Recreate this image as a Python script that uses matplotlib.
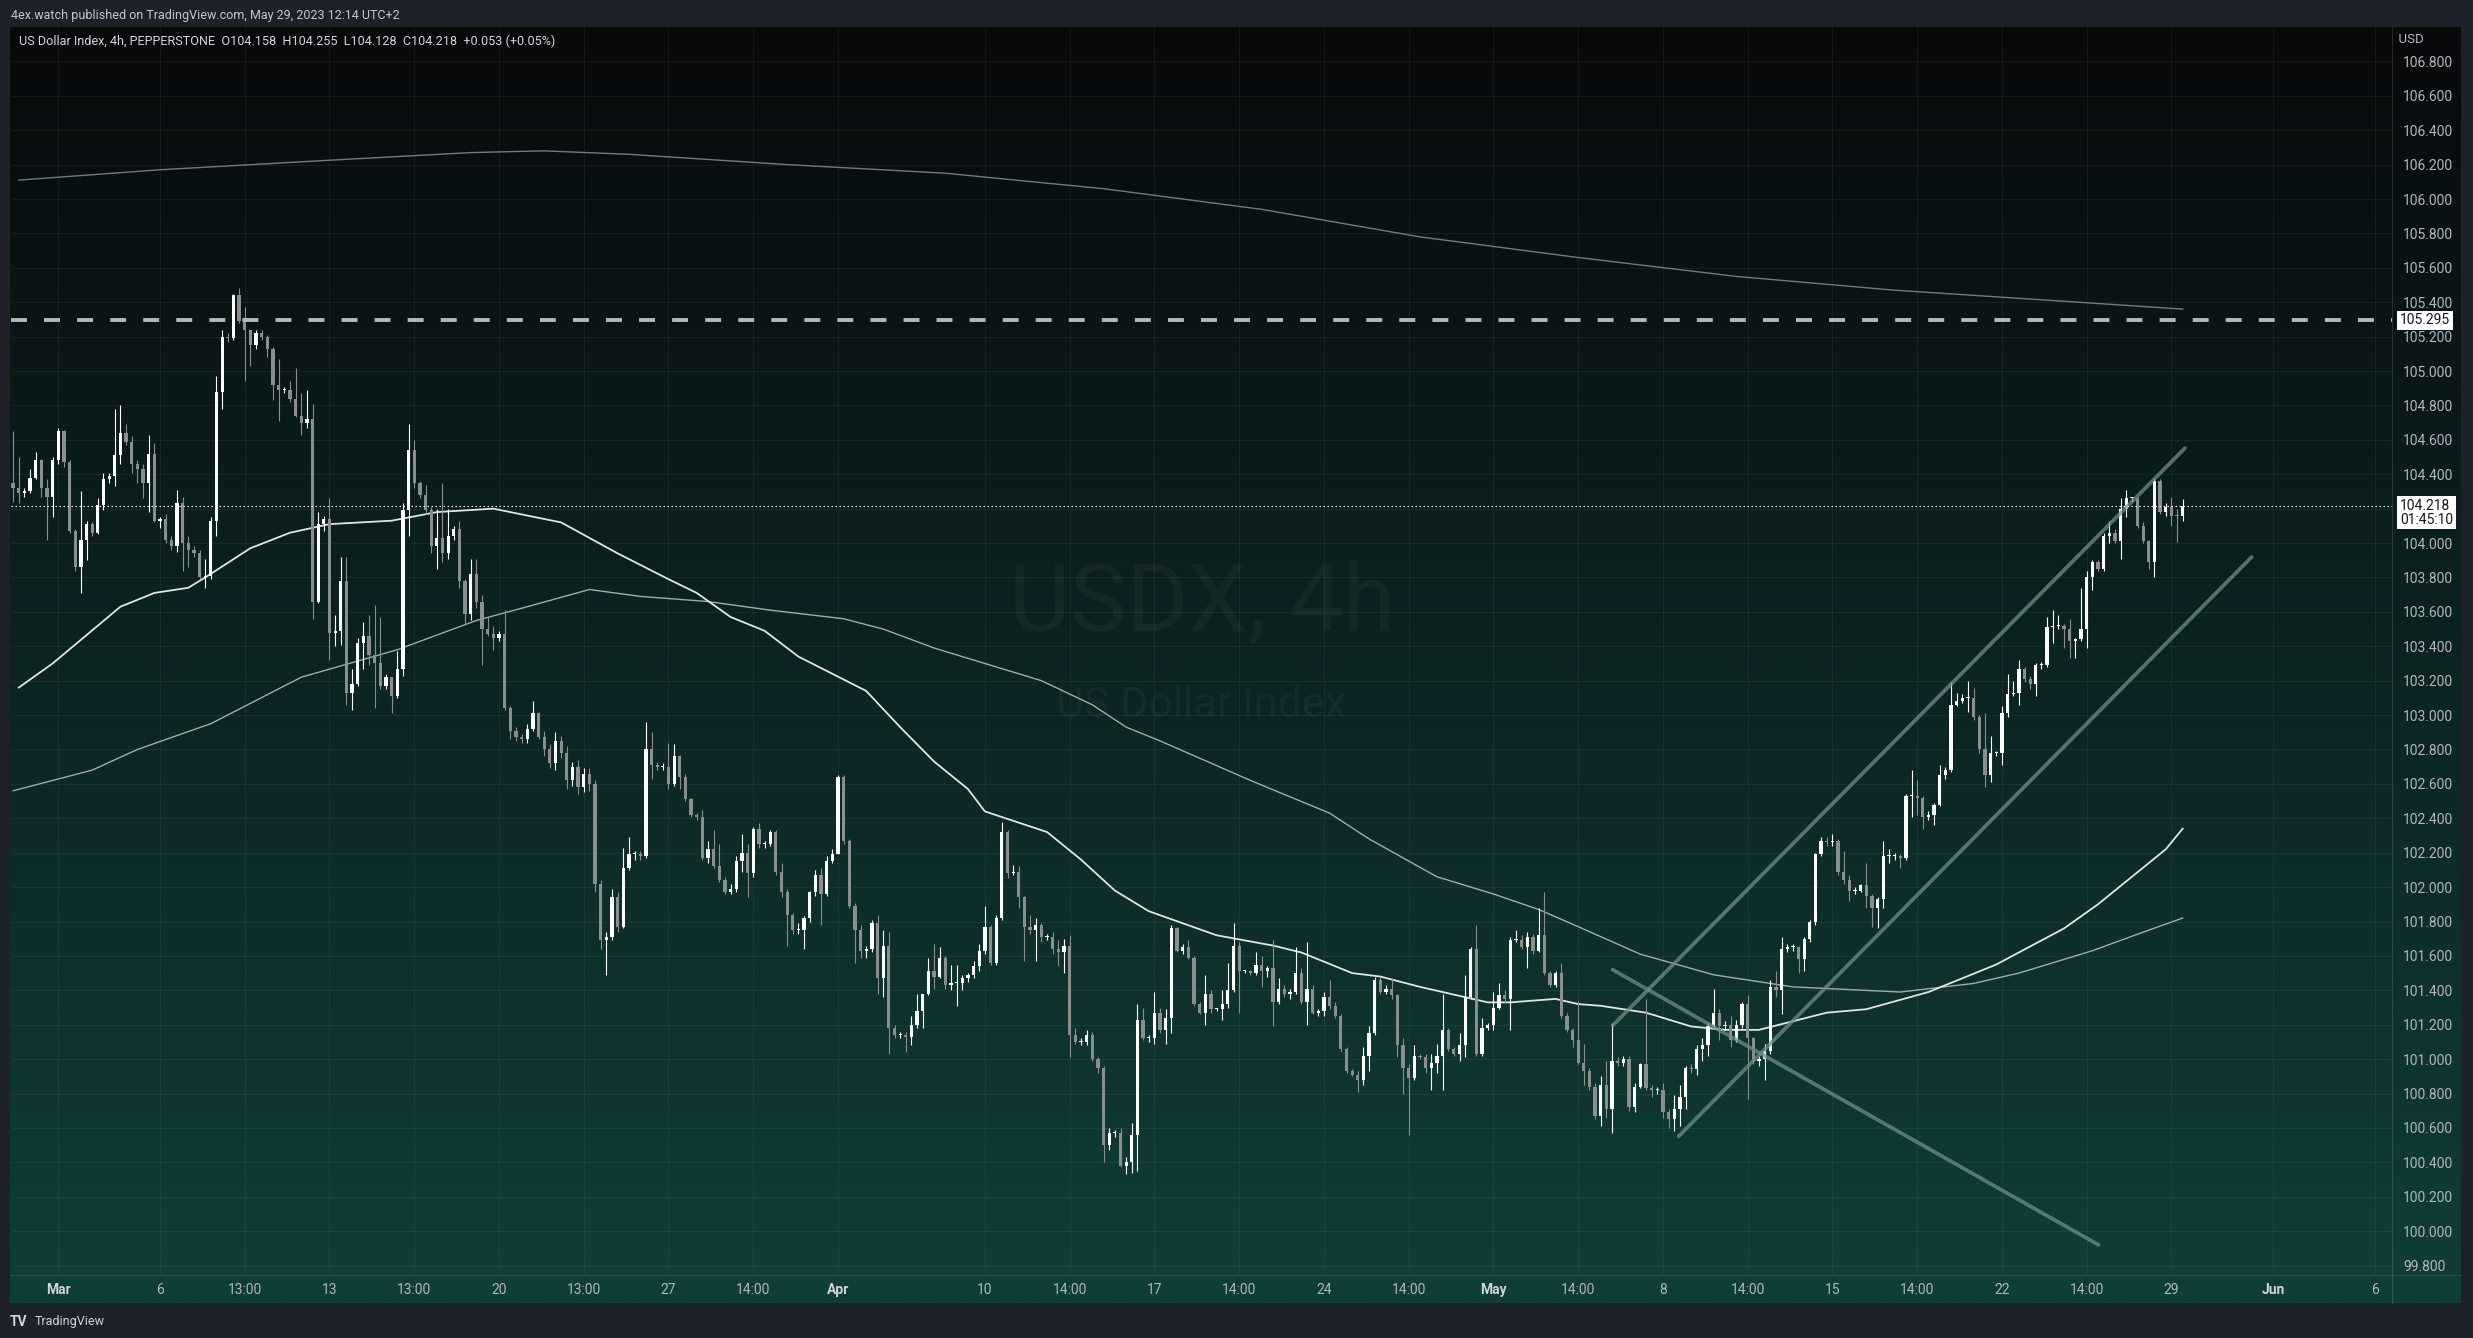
import numpy as np
import matplotlib
matplotlib.use("Agg")
import matplotlib.pyplot as plt
from matplotlib.transforms import blended_transform_factory
from matplotlib.lines import Line2D
from matplotlib import colors as mcolors

plt.rcParams['font.family'] = ['Roboto', 'DejaVu Sans']

# ---------------- data ----------------
open_first = 104.35
closes = [
    104.32, 104.29, 104.30, 104.38, 104.48, 104.32, 104.27, 104.48, 104.65, 104.47,
    104.07, 103.86, 104.02, 104.11, 104.06, 104.22, 104.37, 104.39, 104.51, 104.64,
    104.59, 104.46, 104.43, 104.35, 104.52, 104.13, 104.14, 104.02, 103.98, 104.23,
    104.00, 103.96, 103.94, 103.80, 103.81, 104.13, 104.88, 105.20, 105.19, 105.44,
    105.29, 105.24, 105.15, 105.22, 105.20, 105.13, 104.92, 104.89, 104.89, 104.84,
    104.74, 104.70, 104.72, 103.66, 104.11, 104.14, 103.48, 103.49, 103.78, 103.13,
    103.18, 103.42, 103.46, 103.35, 103.30, 103.17, 103.22, 103.11, 103.27, 104.19,
    104.54, 104.35, 104.28, 104.19, 103.98, 104.03, 103.94, 104.04, 104.08, 103.78,
    103.59, 103.82, 103.66, 103.50, 103.47, 103.45, 103.47, 103.04, 102.91, 102.87,
    102.86, 102.92, 103.01, 102.87, 102.80, 102.72, 102.85, 102.78, 102.62, 102.70,
    102.58, 102.66, 102.60, 102.02, 101.69, 101.71, 101.94, 101.77, 102.11, 102.19,
    102.19, 102.18, 102.80, 102.71, 102.70, 102.70, 102.60, 102.76, 102.64, 102.51,
    102.42, 102.41, 102.17, 102.22, 102.12, 102.04, 101.97, 101.99, 102.15, 102.20,
    102.08, 102.34, 102.25, 102.25, 102.32, 102.09, 101.97, 101.84, 101.75, 101.75,
    101.82, 101.97, 102.07, 101.96, 102.15, 102.19, 102.64, 102.27, 101.89, 101.75,
    101.63, 101.64, 101.79, 101.47, 101.66, 101.18, 101.14, 101.14, 101.13, 101.20,
    101.28, 101.38, 101.51, 101.48, 101.59, 101.43, 101.44, 101.44, 101.47, 101.49,
    101.54, 101.63, 101.77, 101.56, 101.82, 102.32, 102.08, 102.09, 101.94, 101.77,
    101.75, 101.78, 101.71, 101.71, 101.64, 101.62, 101.66, 101.14, 101.10, 101.10,
    101.14, 101.00, 100.95, 100.50, 100.57, 100.57, 100.38, 100.40, 100.56, 101.23,
    101.12, 101.12, 101.27, 101.17, 101.24, 101.76, 101.63, 101.65, 101.59, 101.32,
    101.27, 101.38, 101.29, 101.29, 101.32, 101.40, 101.66, 101.51, 101.51, 101.50,
    101.55, 101.51, 101.53, 101.33, 101.41, 101.38, 101.39, 101.50, 101.33, 101.41,
    101.27, 101.28, 101.36, 101.31, 101.25, 101.06, 100.93, 100.91, 100.88, 101.02,
    101.15, 101.46, 101.39, 101.41, 101.37, 101.08, 100.95, 100.89, 101.02, 101.01,
    100.95, 100.98, 101.02, 101.17, 101.06, 101.03, 101.08, 101.36, 101.64, 101.03,
    101.18, 101.20, 101.30, 101.37, 101.35, 101.69, 101.69, 101.65, 101.71, 101.63,
    101.72, 101.50, 101.43, 101.50, 101.25, 101.17, 101.11, 100.98, 100.93, 100.84,
    100.67, 100.85, 100.71, 100.99, 100.98, 101.00, 100.72, 100.84, 100.97, 100.83,
    100.82, 100.82, 100.69, 100.65, 100.71, 100.78, 100.95, 100.94, 101.06, 101.08,
    101.19, 101.27, 101.19, 101.20, 101.11, 101.20, 101.32, 101.12, 100.99, 101.00,
    101.05, 101.42, 101.40, 101.64, 101.65, 101.65, 101.58, 101.70, 101.80, 102.19,
    102.27, 102.26, 102.27, 102.09, 102.04, 101.98, 101.98, 102.01, 101.95, 101.88,
    101.93, 102.18, 102.18, 102.18, 102.17, 102.53, 102.53, 102.52, 102.41, 102.42,
    102.48, 102.65, 102.68, 103.06, 103.08, 103.10, 103.10, 102.99, 102.80, 102.65,
    102.78, 102.78, 103.01, 103.12, 103.13, 103.27, 103.21, 103.18, 103.29, 103.29,
    103.51, 103.52, 103.52, 103.50, 103.43, 103.44, 103.50, 103.80, 103.89, 103.85,
    104.04, 104.06, 104.01, 104.20, 104.26, 104.26, 104.10, 104.01, 103.89, 104.36,
    104.18, 104.21, 104.16, 104.158, 104.218,
]
# wick lengths beyond the body, in hundredths of an index point
wick_up = [
    30, 18, 2, 5, 5, 1, 5, 2, 2, 1,
    1, 1, 28, 2, 1, 4, 4, 2, 27, 16,
    5, 3, 2, 3, 11, 6, 1, 3, 2, 8,
    4, 4, 2, 2, 10, 2, 9, 4, 2, 1,
    4, 8, 0, 2, 2, 1, 1, 15, 2, 5,
    18, 13, 17, 9, 7, 2, 12, 9, 14, 14,
    9, 3, 8, 12, 29, 27, 2, 0, 10, 4,
    15, 6, 1, 6, 2, 17, 32, 16, 2, 5,
    1, 9, 9, 4, 7, 5, 2, 14, 1, 2,
    2, 3, 7, 1, 4, 3, 5, 3, 4, 3,
    4, 3, 3, 2, 2, 3, 5, 3, 12, 10,
    2, 2, 16, 10, 2, 2, 14, 7, 1, 2,
    1, 1, 4, 5, 11, 13, 2, 3, 3, 11,
    5, 1, 3, 2, 1, 1, 5, 2, 1, 4,
    1, 1, 3, 4, 3, 3, 1, 1, 1, 2,
    3, 2, 2, 5, 9, 8, 2, 2, 2, 5,
    10, 0, 8, 16, 6, 1, 11, 11, 2, 1,
    3, 4, 12, 1, 2, 6, 1, 4, 3, 1,
    7, 4, 1, 2, 3, 5, 4, 6, 4, 2,
    3, 2, 1, 1, 3, 2, 3, 3, 7, 9,
    7, 2, 12, 3, 5, 2, 1, 2, 4, 1,
    1, 11, 2, 1, 8, 16, 13, 2, 1, 1,
    7, 5, 1, 16, 6, 2, 2, 15, 3, 27,
    2, 1, 3, 10, 2, 1, 1, 1, 2, 5,
    4, 2, 2, 2, 6, 1, 4, 2, 6, 1,
    2, 5, 7, 21, 1, 1, 7, 13, 1, 14,
    6, 1, 9, 7, 3, 2, 6, 3, 3, 2,
    16, 25, 1, 1, 6, 2, 1, 23, 11, 2,
    2, 5, 14, 22, 2, 2, 2, 2, 1, 38,
    2, 2, 4, 2, 8, 7, 1, 2, 2, 4,
    2, 14, 2, 2, 5, 3, 1, 5, 1, 2,
    4, 4, 9, 7, 2, 2, 1, 1, 1, 1,
    2, 2, 4, 1, 12, 3, 2, 1, 13, 1,
    1, 9, 4, 2, 1, 1, 15, 9, 1, 2,
    1, 6, 2, 13, 5, 2, 10, 6, 1, 21,
    10, 1, 4, 12, 7, 5, 1, 2, 1, 2,
    6, 9, 6, 1, 6, 1, 24, 4, 1, 1,
    2, 7, 2, 6, 5, 1, 1, 2, 1, 2,
    1, 2, 6, 4, 4,
]
wick_dn = [
    8, 6, 2, 1, 1, 5, 25, 12, 2, 3,
    1, 2, 15, 12, 2, 1, 3, 2, 6, 5,
    2, 5, 8, 9, 17, 1, 4, 2, 2, 3,
    16, 10, 2, 1, 6, 2, 9, 10, 2, 1,
    1, 30, 12, 2, 2, 5, 9, 18, 2, 2,
    1, 7, 3, 10, 1, 4, 16, 8, 8, 7,
    10, 1, 15, 6, 26, 2, 2, 10, 1, 4,
    15, 3, 2, 2, 4, 13, 5, 3, 2, 4,
    6, 4, 4, 21, 1, 7, 2, 1, 5, 2,
    2, 2, 1, 1, 4, 3, 4, 3, 5, 3,
    4, 3, 4, 5, 5, 20, 2, 3, 1, 1,
    3, 2, 1, 8, 2, 2, 3, 1, 7, 1,
    1, 2, 1, 3, 1, 1, 1, 1, 2, 6,
    14, 2, 2, 2, 1, 2, 3, 18, 2, 2,
    11, 2, 2, 18, 1, 1, 0, 2, 1, 19,
    4, 4, 2, 9, 11, 15, 2, 2, 9, 5,
    2, 10, 1, 7, 1, 2, 3, 13, 4, 2,
    2, 3, 2, 1, 1, 1, 3, 1, 6, 20,
    2, 18, 3, 2, 3, 8, 12, 13, 1, 2,
    2, 1, 3, 10, 3, 2, 1, 5, 6, 21,
    1, 2, 3, 2, 8, 9, 1, 2, 1, 1,
    1, 7, 2, 1, 6, 2, 1, 24, 1, 1,
    1, 9, 3, 14, 1, 2, 3, 1, 1, 13,
    1, 2, 3, 2, 1, 1, 1, 1, 7, 3,
    9, 1, 1, 1, 2, 7, 15, 33, 1, 1,
    3, 13, 6, 20, 1, 1, 4, 7, 1, 1,
    1, 1, 3, 1, 2, 18, 1, 1, 12, 2,
    1, 1, 1, 1, 1, 1, 4, 1, 8, 2,
    2, 6, 5, 14, 2, 2, 2, 3, 1, 1,
    4, 2, 3, 5, 7, 10, 7, 2, 3, 7,
    6, 1, 8, 2, 4, 1, 2, 35, 2, 3,
    12, 2, 4, 14, 2, 2, 8, 7, 2, 2,
    1, 2, 2, 2, 2, 6, 2, 1, 7, 11,
    12, 5, 4, 2, 6, 1, 12, 10, 7, 2,
    6, 1, 2, 1, 1, 1, 8, 2, 2, 7,
    4, 2, 7, 2, 1, 7, 2, 3, 7, 2,
    1, 9, 2, 11, 10, 10, 1, 11, 7, 1,
    1, 4, 1, 10, 5, 2, 1, 1, 4, 9,
    1, 2, 6, 15, 3,
]

# moving averages (sampled along the bar index)
ma_fast_idx = [1, 7, 19, 25, 31, 34, 42, 49, 56, 67, 75, 85, 97, 107, 116, 121, 127, 133, 139, 151,
               157, 163, 169, 172, 183, 189, 195, 201, 213, 223, 228, 237, 242, 249, 257, 261, 265, 273,
               277, 281, 289, 297, 303, 309, 315, 321, 328, 339, 351, 363, 369, 381, 384]
ma_fast_val = [103.16, 103.30, 103.63, 103.71, 103.74, 103.80, 103.97, 104.06, 104.11, 104.13,
               104.18, 104.20, 104.12, 103.94, 103.79, 103.71, 103.57, 103.49, 103.34, 103.14,
               102.93, 102.73, 102.57, 102.44, 102.32, 102.16, 101.98, 101.86, 101.72, 101.66,
               101.62, 101.50, 101.48, 101.42, 101.36, 101.33, 101.33, 101.35, 101.32, 101.31,
               101.27, 101.19, 101.17, 101.17, 101.22, 101.27, 101.29, 101.39, 101.55, 101.76,
               101.90, 102.22, 102.34]
ma_mid_idx = [0, 14, 22, 35, 51, 68, 82, 91, 102, 111, 123, 134, 147, 154, 163, 173, 182, 191, 197, 203,
              219, 233, 240, 252, 262, 270, 277, 288, 301, 315, 334, 347, 355, 368, 378, 384]
ma_mid_val = [102.56, 102.68, 102.80, 102.95, 103.22, 103.38, 103.55, 103.63, 103.73, 103.69,
              103.66, 103.61, 103.56, 103.50, 103.39, 103.29, 103.20, 103.06, 102.93, 102.85,
              102.62, 102.43, 102.28, 102.06, 101.96, 101.87, 101.77, 101.61, 101.49, 101.42,
              101.39, 101.44, 101.50, 101.63, 101.75, 101.82]
ma_slow_idx = [1, 26, 53, 81, 94, 109, 137, 165, 193, 221, 249, 277, 305, 333, 361, 384]
ma_slow_val = [106.11, 106.17, 106.22, 106.27, 106.28, 106.26, 106.20, 106.15, 106.06, 105.94,
               105.78, 105.66, 105.55, 105.47, 105.41, 105.36]

# drawings (anchor points: bar index, price)
chan_upper = [(283.1, 101.195), (384.4, 104.552)]
chan_lower = [(294.8, 100.552), (396.2, 103.919)]
trend_down = [(283.1, 101.52), (369.1, 99.92)]
level_dashed = 105.295
last_price = 104.218
countdown = "01:45:10"

xtick_idx = [8, 26, 41, 56, 71, 86, 101, 116, 131, 146, 172, 187, 202, 217, 232, 247, 262, 277,
             292, 307, 322, 337, 352, 367, 382, 400, 418]
xtick_labels = ["Mar", "6", "13:00", "13", "13:00", "20", "13:00", "27", "14:00", "Apr", "10", "14:00",
                "17", "14:00", "24", "14:00", "May", "14:00", "8", "14:00", "15", "14:00", "22", "14:00",
                "29", "Jun", "6"]
price_ticks = [99.8, 100.0, 100.2, 100.4, 100.6, 100.8, 101.0, 101.2, 101.4, 101.6, 101.8, 102.0,
               102.2, 102.4, 102.6, 102.8, 103.0, 103.2, 103.4, 103.6, 103.8, 104.0, 104.2, 104.4,
               104.6, 104.8, 105.0, 105.2, 105.4, 105.6, 105.8, 106.0, 106.2, 106.4, 106.6, 106.8]

header = "4ex.watch published on TradingView.com, May 29, 2023 12:14 UTC+2"
legend = "US Dollar Index, 4h, PEPPERSTONE  O104.158  H104.255  L104.128  C104.218  +0.053 (+0.05%)"

# ---------------- figure ----------------
W, H, DPI = 2473, 1338, 100
fig = plt.figure(figsize=(W / DPI, H / DPI), dpi=DPI, facecolor='#1e2129')


def fx(px):
    return px / W


def fy(py):
    return 1 - py / H


# gradient panel background
PL, PR, PT, PB = 10, 2461, 27, 1303
bg = fig.add_axes([fx(PL), fy(PB), (PR - PL) / W, (PB - PT) / H])
top_c = np.array(mcolors.to_rgb('#08090b'))
bot_c = np.array(mcolors.to_rgb('#103e3a'))
t = np.linspace(0, 1, 512)[:, None, None]
grad = top_c[None, None, :] * (1 - t) + bot_c[None, None, :] * t
bg.imshow(grad, aspect='auto', extent=[0, 1, 0, 1], interpolation='bilinear')
bg.set_axis_off()

# main plot
AL, AR, AT, AB = 11, 2392, 27, 1275
ax = fig.add_axes([fx(AL), fy(AB), (AR - AL) / W, (AB - AT) / H])
ax.set_facecolor('none')
ax.set_xlim(-0.37, 421.04)
ax.set_ylim(99.745, 107.0)
for s in ax.spines.values():
    s.set_visible(False)

ax.set_xticks(xtick_idx)
ax.set_xticklabels(xtick_labels)
ax.set_yticks(price_ticks)
# the tick label hidden behind the last-price box is left blank, as in the reference
ax.set_yticklabels(["" if abs(v - last_price) < 0.06 else f"{v:.3f}" for v in price_ticks])
ax.yaxis.tick_right()
ax.tick_params(axis='both', length=0, colors='#b2b5be', labelsize=10)
ax.tick_params(axis='y', pad=8)
ax.tick_params(axis='x', pad=6)
for lab in ax.get_xticklabels():
    if lab.get_text() in ("Mar", "Apr", "May", "Jun"):
        lab.set_fontweight('bold')
        lab.set_color('#d1d4dc')
ax.grid(True, color='white', alpha=0.055, lw=0.8)
ax.set_axisbelow(True)

# watermark
ax.text(0.5, 0.5377, "USDX, 4h", transform=ax.transAxes, ha='center', va='center',
        fontsize=68, color='white', alpha=0.04, zorder=0)
ax.text(0.5, 0.4567, "US Dollar Index", transform=ax.transAxes, ha='center', va='center',
        fontsize=31, color='white', alpha=0.04, zorder=0)

# moving averages
ax.plot(ma_slow_idx, ma_slow_val, color='#737b7a', lw=1.0, zorder=2)
ax.plot(ma_mid_idx, ma_mid_val, color='#a3abaa', lw=1.0, zorder=2)
ax.plot(ma_fast_idx, ma_fast_val, color='#e2e5e3', lw=1.3, zorder=2)

# candles
c = np.array(closes)
o = np.concatenate([[open_first], c[:-1]])
idx = np.arange(len(c))
hi = np.maximum(o, c) + np.array(wick_up) / 100.0
lo = np.minimum(o, c) - np.array(wick_dn) / 100.0
up = c >= o
cols = np.where(up, '#ffffff', '#8b8e8f')
ax.vlines(idx, lo, hi, colors=cols, lw=0.8, zorder=3)
body = np.maximum(np.abs(c - o), 0.006)
ax.bar(idx, body, bottom=np.minimum(o, c), width=0.58, color=cols, linewidth=0, zorder=4)

# trend drawings
for seg in (chan_upper, chan_lower, trend_down):
    xs = [p[0] for p in seg]
    ys = [p[1] for p in seg]
    ax.plot(xs, ys, color='#6f8d88', alpha=0.75, lw=2.7, solid_capstyle='round', zorder=5)

# horizontal levels
ax.axhline(level_dashed, color='#b4b8b8', lw=2.8, dashes=(4.1, 4.4), zorder=5)
ax.axhline(last_price, color='#e8e8e8', lw=0.9, dashes=(1.2, 2.0), zorder=5)

# price axis labels
bt = blended_transform_factory(ax.transAxes, ax.transData)
ax.annotate(f"{level_dashed:.3f}", xy=(1.0, level_dashed), xycoords=bt, xytext=(8, 0),
            textcoords='offset pixels', ha='left', va='center', fontsize=10, color='#131722',
            bbox=dict(boxstyle='square,pad=0.2', fc='white', ec='none'), annotation_clip=False, zorder=10)
ax.annotate(f"{last_price:.3f}\n{countdown}", xy=(1.0, last_price), xycoords=bt, xytext=(8, -7),
            textcoords='offset pixels', ha='left', va='center', fontsize=10, color='#131722',
            linespacing=1.0,
            bbox=dict(boxstyle='square,pad=0.2', fc='white', ec='none'), annotation_clip=False, zorder=10)
ax.text(1.0, 0.990, "  USD", transform=ax.transAxes, ha='left', va='center', fontsize=9.5,
        color='#b2b5be', clip_on=False)

# separators
fig.add_artist(Line2D([fx(AR), fx(AR)], [fy(PT), fy(PB)], color='white', alpha=0.12, lw=0.8))
fig.add_artist(Line2D([fx(PL), fx(PR)], [fy(AB), fy(AB)], color='white', alpha=0.12, lw=0.8))

# header texts
fig.text(fx(11), fy(15), header, ha='left', va='center', fontsize=9, color='#c3c6ce')
fig.text(fx(19), fy(41), legend, ha='left', va='center', fontsize=9.1, color='#d1d4dc')
fig.text(fx(10), fy(1322), "TV", ha='left', va='center', fontsize=10, fontweight='bold', color='#d1d4dc')
fig.text(fx(35), fy(1322), "TradingView", ha='left', va='center', fontsize=9, color='#d1d4dc')

fig.savefig("out.png", dpi=DPI, facecolor=fig.get_facecolor())
